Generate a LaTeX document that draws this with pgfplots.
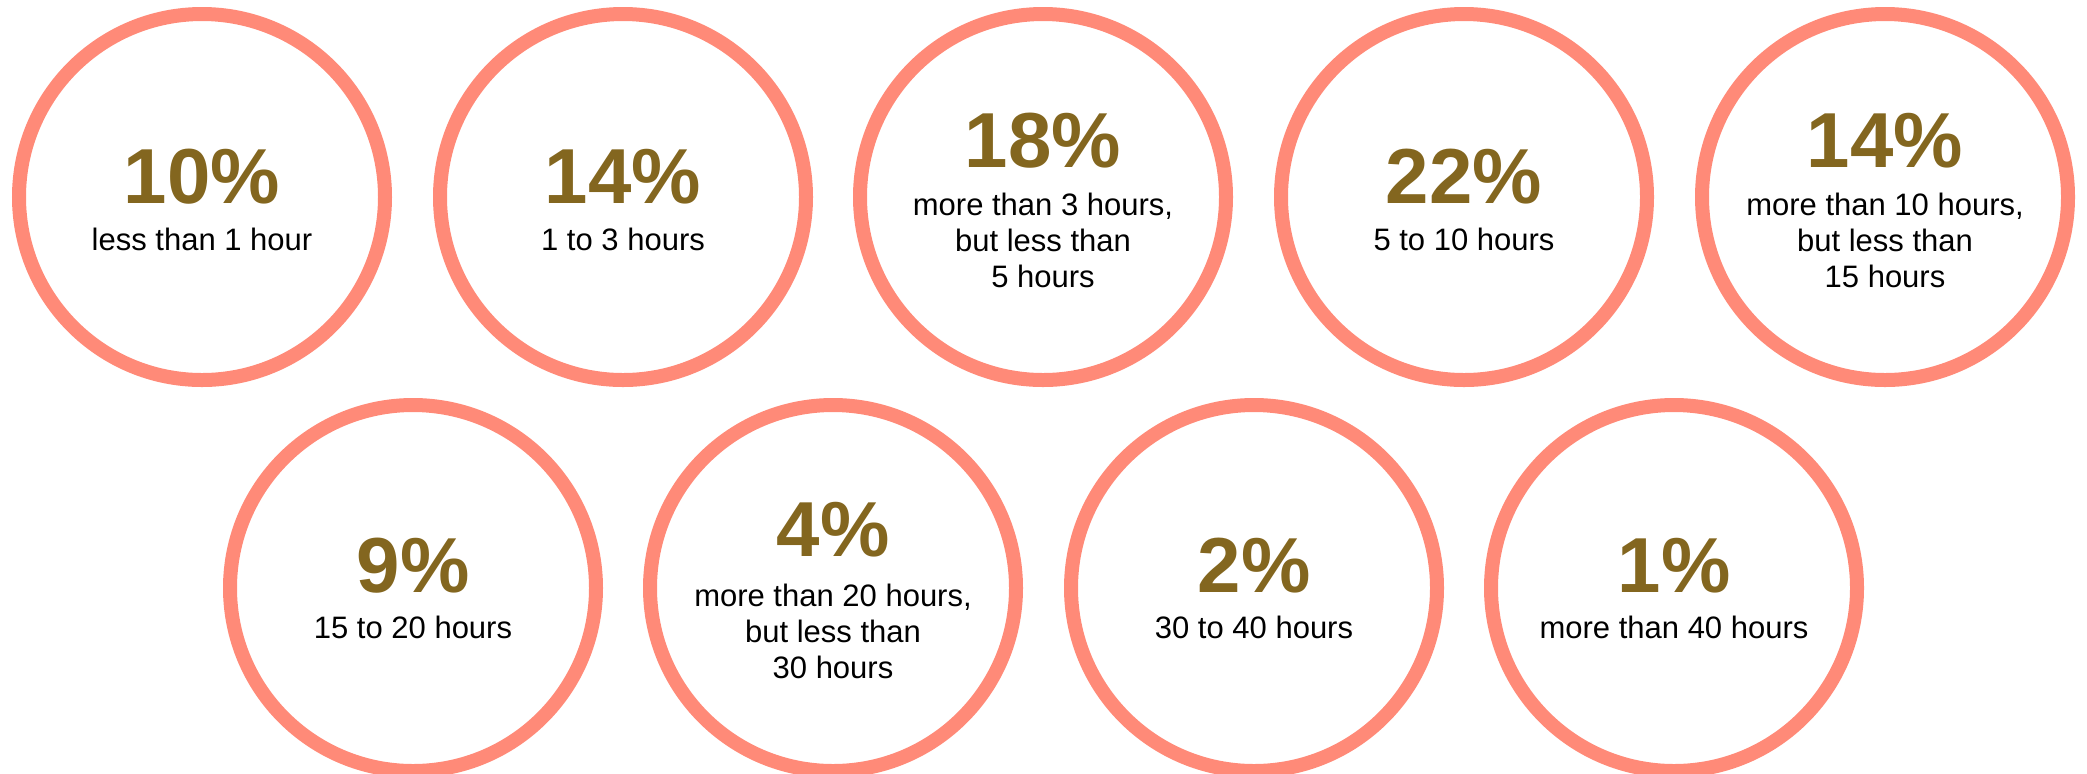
\documentclass[border=0pt]{standalone}
\usepackage{pgfplots}
\pgfplotsset{compat=1.18}
\usepackage{fontspec}
\setmainfont{Liberation Sans}
\definecolor{ring}{HTML}{FF8A78}
\definecolor{pct}{HTML}{83661F}
\pgfplotstableread{
x y v dy
202 197 10 -3
623 197 14 -3
1043 197 18 15
1464 197 22 -3
1885 197 14 15
413 588 9 -2
833 588 4 16
1254 588 2 -2
1674 588 1 -2
}\rings
\begin{document}
\begin{tikzpicture}
\begin{axis}[name=ax,width=1043.5pt,height=386.5pt,scale only axis,
  xmin=0,xmax=2087,ymin=0,ymax=773,y dir=reverse,axis lines=none,clip=false,
  /pgf/number format/assume math mode=true]
\addplot[only marks, mark=o, mark size=91.5pt,
  mark options={line width=7pt, draw=ring, fill=none},
  point meta=\thisrow{v},
  visualization depends on={\thisrow{dy} \as \dy},
  nodes near coords={\pgfmathprintnumber[int detect]{\pgfplotspointmeta}\%},
  nodes near coords style={anchor=base, yshift=\dy pt, text=pct,
    font=\fontsize{39}{42}\selectfont\bfseries, inner sep=0pt}]
  table[x=x,y=y] {\rings};
\tikzset{lab/.style={anchor=base, inner sep=0pt,
  font=\fontsize{15.5}{18}\selectfont}}
\node[lab] at (axis cs:202,250) {less than 1 hour};
\node[lab] at (axis cs:623,250) {1 to 3 hours};
\node[lab] at (axis cs:1043,215) {more than 3 hours,};
\node[lab] at (axis cs:1043,251) {but less than};
\node[lab] at (axis cs:1043,287) {5 hours};
\node[lab] at (axis cs:1464,250) {5 to 10 hours};
\node[lab] at (axis cs:1885,215) {more than 10 hours,};
\node[lab] at (axis cs:1885,251) {but less than};
\node[lab] at (axis cs:1885,287) {15 hours};
\node[lab] at (axis cs:413,638) {15 to 20 hours};
\node[lab] at (axis cs:833,606) {more than 20 hours,};
\node[lab] at (axis cs:833,642) {but less than};
\node[lab] at (axis cs:833,678) {30 hours};
\node[lab] at (axis cs:1254,638) {30 to 40 hours};
\node[lab] at (axis cs:1674,638) {more than 40 hours};
\end{axis}
\pgfresetboundingbox
\path (ax.south west) rectangle (ax.north east);
\end{tikzpicture}
\end{document}
